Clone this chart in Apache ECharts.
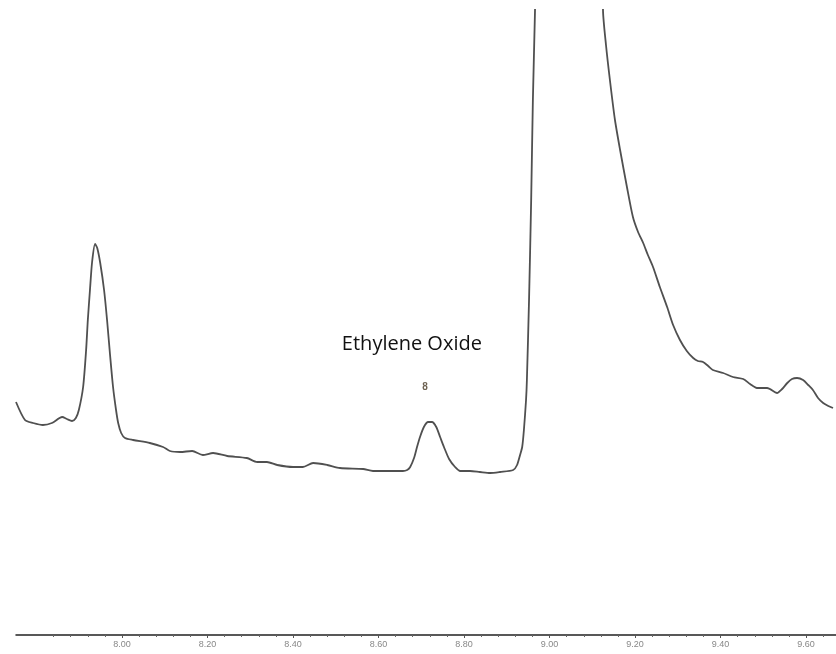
<!DOCTYPE html>
<html>
<head>
<meta charset="utf-8">
<script src="https://cdn.jsdelivr.net/npm/echarts@6/dist/echarts.min.js"></script>
<style>
html,body{margin:0;padding:0;background:#fff;}
#chart{width:836px;height:654px;}
</style>
</head>
<body>
<div id="chart"></div>
<script>
// Retention time (min)
const times = [7.752,7.773,7.792,7.815,7.836,7.860,7.871,7.883,7.892,7.899,7.909,7.916,7.920,7.925,7.930,7.937,7.942,7.949,7.958,7.965,7.972,7.979,7.986,7.991,7.998,8.007,8.026,8.065,8.096,8.112,8.136,8.164,8.189,8.213,8.246,8.292,8.316,8.339,8.363,8.400,8.423,8.447,8.480,8.510,8.564,8.587,8.657,8.667,8.674,8.683,8.690,8.697,8.706,8.716,8.725,8.735,8.744,8.753,8.765,8.779,8.791,8.814,8.837,8.861,8.884,8.915,8.924,8.931,8.936,8.940,8.945,8.947,8.952,8.957,8.961,8.966,8.971,8.989,9.036,9.095,9.118,9.125,9.132,9.142,9.153,9.165,9.181,9.195,9.207,9.219,9.230,9.242,9.258,9.275,9.289,9.305,9.321,9.336,9.347,9.359,9.371,9.382,9.406,9.429,9.453,9.469,9.485,9.509,9.532,9.544,9.556,9.567,9.579,9.593,9.605,9.616,9.628,9.640,9.652,9.663];
// Detector response (arbitrary units)
const response = [233,215,212,210,212,218,216,214,217,225,248,285,315,345,373,391,387,372,345,315,280,248,225,212,202,197,195,192,188,184,183,184,180,182,179,177,173,173,170,168,168,172,170,167,166,164,164,165,168,177,188,198,208,213,213,208,198,188,176,168,164,164,163,162,163,165,170,180,188,205,235,255,335,435,535,625,735,2135,3635,2635,935,625,590,552,515,485,448,418,403,392,380,368,348,328,310,295,284,277,274,273,269,265,262,258,256,251,247,247,242,246,252,256,257,255,250,245,237,232,229,227];
// Axis tick labels
const majorTicks = [8.00,8.20,8.40,8.60,8.80,9.00,9.20,9.40,9.60];
const minorTicks = [7.84,7.88,7.92,7.96,8.04,8.08,8.12,8.16,8.24,8.28,8.32,8.36,8.44,8.48,8.52,8.56,8.64,8.68,8.72,8.76,8.84,8.88,8.92,8.96,9.04,9.08,9.12,9.16,9.24,9.28,9.32,9.36,9.44,9.48,9.52,9.56,9.64];
// Annotations
const peakName = 'Ethylene Oxide';
const peakNumber = '8';
const peakNameAt = [8.678, 291];
const peakNumberAt = [8.709, 248];

const X_MIN = 7.752, X_MAX = 9.67;

const chart = echarts.init(document.getElementById('chart'), null, {renderer:'canvas'});
chart.setOption({
  animation:false,
  backgroundColor:'#ffffff',
  grid:{left:16,right:0,top:10,bottom:19,containLabel:false},
  xAxis:[
    {type:'value',min:X_MIN,max:X_MAX,position:'bottom',
     axisLine:{show:true,lineStyle:{color:'#222',width:1.5}},
     axisTick:{show:true,customValues:majorTicks,length:3,lineStyle:{color:'#555',width:1}},
     axisLabel:{show:true,customValues:majorTicks,formatter:v=>v.toFixed(2),color:'#888',fontSize:9,fontFamily:'Liberation Sans',margin:5},
     splitLine:{show:false}},
    {type:'value',min:X_MIN,max:X_MAX,position:'bottom',
     axisLine:{show:false},
     axisTick:{show:true,customValues:minorTicks,length:2,lineStyle:{color:'#666',width:1}},
     axisLabel:{show:false},
     splitLine:{show:false}}
  ],
  yAxis:{type:'value',min:0,max:625,show:false,splitLine:{show:false}},
  series:[{
    type:'line',
    xAxisIndex:0,
    data:times.map((t,i)=>[t,response[i]]),
    showSymbol:false,
    symbol:'none',
    smooth:0.25,
    clip:true,
    lineStyle:{color:'#505050',width:1.8},
    markPoint:{
      symbol:'rect',symbolSize:1,
      itemStyle:{color:'rgba(0,0,0,0)'},
      data:[
        {coord:peakNameAt,label:{show:true,position:'inside',formatter:peakName,color:'#111',fontSize:20,fontFamily:'Open Sans'}},
        {coord:peakNumberAt,label:{show:true,position:'inside',formatter:peakNumber,color:'#6e6252',fontSize:10,fontWeight:'bold',fontFamily:'Liberation Sans'}}
      ]
    }
  }]
});
</script>
</body>
</html>
